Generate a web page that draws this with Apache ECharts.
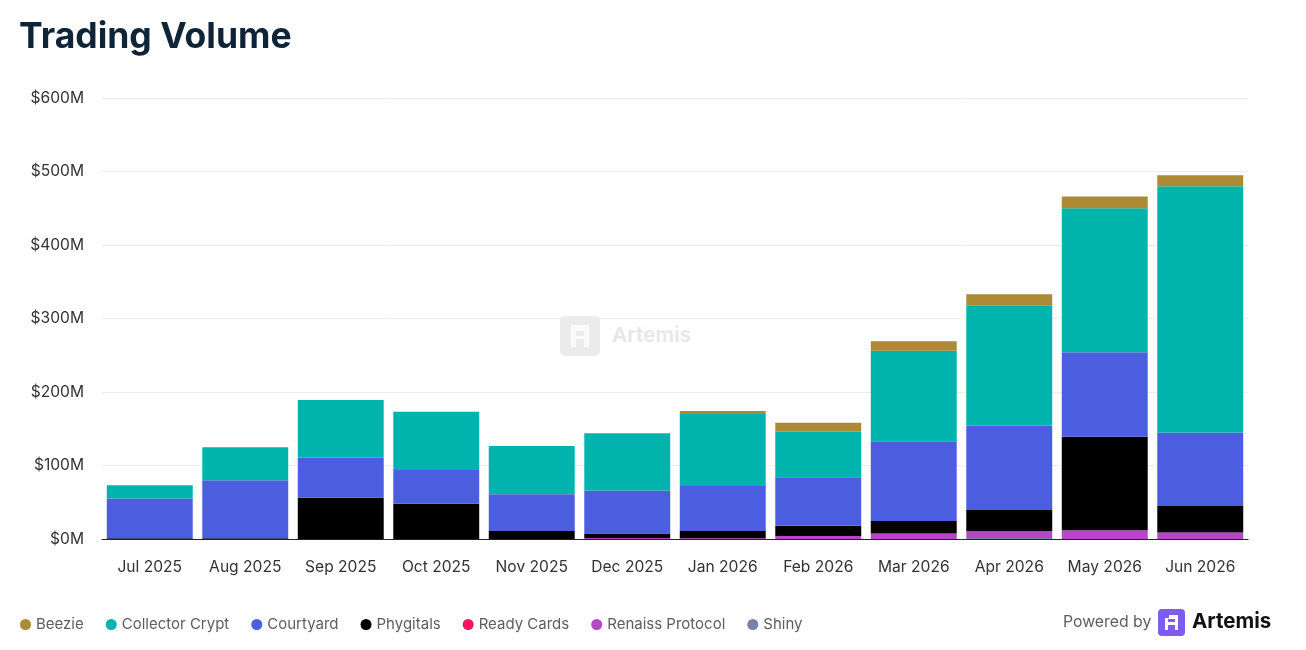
<!DOCTYPE html>
<html>
<head>
<meta charset="utf-8">
<script src="https://cdn.jsdelivr.net/npm/echarts@6/dist/echarts.min.js"></script>
<style>
html,body{margin:0;padding:0;background:#fff;}
#chart{width:1306px;height:650px;}
</style>
</head>
<body>
<div id="chart"></div>
<script>
const categories = ['Jul 2025','Aug 2025','Sep 2025','Oct 2025','Nov 2025','Dec 2025','Jan 2026','Feb 2026','Mar 2026','Apr 2026','May 2026','Jun 2026'];
// values in $M
const shiny           = [0, 0, 0, 0, 0, 0, 0, 0, 0, 1.5, 0, 0];
const renaissProtocol = [0, 0, 0, 0, 0, 1.5, 1, 4, 7.5, 9, 12, 9];
const readyCards      = [0, 0, 0, 0, 0, 0, 0, 0, 0, 0, 0, 0];
const phygitals       = [1, 1, 56, 48, 11, 6, 10, 14, 17, 29, 127, 36];
const courtyard       = [54, 79, 55, 46, 50, 58.5, 61, 66, 108.5, 114.5, 115, 100];
const collectorCrypt  = [18, 45, 78, 79, 65.5, 78, 98, 62, 123, 164, 196, 335];
const beezie          = [0, 0, 0, 0, 0, 0, 4, 12, 13, 15, 16, 15];
const yTicks = [0, 100, 200, 300, 400, 500, 600];

const colors = {
  'Beezie':'#AD8A36',
  'Collector Crypt':'#00B4AE',
  'Courtyard':'#4B5EE0',
  'Phygitals':'#000000',
  'Ready Cards':'#F2185B',
  'Renaiss Protocol':'#B746C8',
  'Shiny':'#7A80A6'
};
const stackOrder = [
  ['Shiny', shiny],
  ['Renaiss Protocol', renaissProtocol],
  ['Ready Cards', readyCards],
  ['Phygitals', phygitals],
  ['Courtyard', courtyard],
  ['Collector Crypt', collectorCrypt],
  ['Beezie', beezie]
];
const legendOrder = ['Beezie','Collector Crypt','Courtyard','Phygitals','Ready Cards','Renaiss Protocol','Shiny'];

const chart = echarts.init(document.getElementById('chart'));
const series = stackOrder.map(([name, data]) => ({
  name, type:'bar', stack:'total', data,
  barWidth:'90%',
  itemStyle:{color:colors[name]},
  emphasis:{disabled:true}
}));

chart.setOption({
  animation:false,
  textStyle:{fontFamily:'Inter, "Noto Sans", sans-serif'},
  title:{
    text:'Trading Volume', left:14, top:14,
    textStyle:{fontSize:35.5, fontWeight:'bold', color:'#0F2437', fontFamily:'Inter, sans-serif'}
  },
  legend:{
    data: legendOrder.map(n=>({name:n})),
    left:15, top:612, icon:'circle', itemWidth:11, itemHeight:11, itemGap:22,
    textStyle:{fontSize:15, color:'#5a5f66'}
  },
  grid:{left:102, right:58, top:98, bottom:111},
  xAxis:{
    type:'category', data:categories,
    axisLine:{lineStyle:{color:'#222', width:1}},
    axisTick:{show:false},
    axisLabel:{fontSize:15.6, color:'#333', margin:20, interval:0}
  },
  yAxis:{
    type:'value', min:yTicks[0], max:yTicks[yTicks.length-1], interval:100,
    axisLine:{show:false}, axisTick:{show:false},
    splitLine:{lineStyle:{color:'#ececec'}},
    axisLabel:{fontSize:15.6, color:'#333', margin:18, formatter:v=>'$'+v+'M'}
  },
  graphic:[
    // watermark
    {type:'rect', left:560, top:316, shape:{width:40, height:40, r:5}, style:{fill:'#ececec'}, z:0},
    {type:'rect', left:571, top:325, shape:{width:18, height:22}, style:{fill:'#fafafa'}, z:0},
    {type:'rect', left:576, top:331, shape:{width:8, height:5}, style:{fill:'#ececec'}, z:0},
    {type:'rect', left:576, top:339, shape:{width:8, height:8}, style:{fill:'#ececec'}, z:0},
    {type:'text', left:612, top:325, style:{text:'Artemis', fontSize:20.5, fontWeight:'bold', fill:'#e8e8e8', fontFamily:'Inter, sans-serif'}, z:0},
    // powered by
    {type:'text', left:1063, top:614, style:{text:'Powered by', fontSize:15.8, fill:'#5a5f66', fontFamily:'Inter, sans-serif'}},
    {type:'rect', left:1158, top:609, shape:{width:27, height:27, r:4}, style:{fill:'#7E5CEF'}},
    {type:'rect', left:1165, top:615, shape:{width:13, height:15}, style:{fill:'#ffffff'}},
    {type:'rect', left:1168, top:619, shape:{width:7, height:3}, style:{fill:'#7E5CEF'}},
    {type:'rect', left:1168, top:625, shape:{width:7, height:5}, style:{fill:'#7E5CEF'}},
    {type:'rect', left:1165, top:615, shape:{width:4, height:3}, style:{fill:'#7E5CEF'}},
    {type:'text', left:1192, top:611, style:{text:'Artemis', fontSize:20.5, fontWeight:'bold', fill:'#111', fontFamily:'Inter, sans-serif'}}
  ],
  series
});
</script>
</body>
</html>
